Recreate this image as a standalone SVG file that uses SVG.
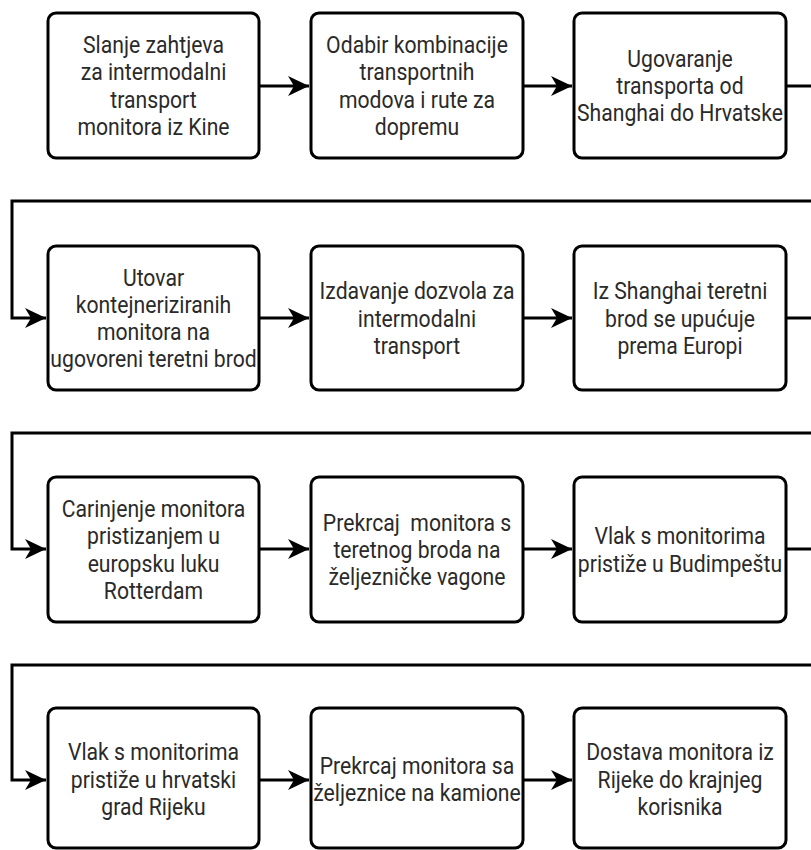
<svg xmlns="http://www.w3.org/2000/svg" width="811" height="850" viewBox="0 0 811 850">
<style>
.box{fill:#fff;stroke:#000;stroke-width:3}
.lbl{font-family:Roboto,"Liberation Sans",sans-serif;font-size:21.2px;fill:#2a2a2a;text-anchor:middle}
.conn{fill:none;stroke:#000;stroke-width:3}
</style>
<defs>
<marker id="ah" markerUnits="userSpaceOnUse" markerWidth="24" markerHeight="24" viewBox="-22 -12 24 24" refX="0" refY="0" orient="auto">
<path d="M0,0 L-21,-10 L-15,0 L-21,10 Z" fill="#000"/>
</marker>
</defs>
<rect width="811" height="850" fill="#fff"/>
<g id="connectors">
<path class="conn" d="M259,86 H309" marker-end="url(#ah)"/>
<path class="conn" d="M523,86 H572" marker-end="url(#ah)"/>
<path class="conn" d="M786,86 H811"/>
<path class="conn" d="M811,201 H12 V318 H46" marker-end="url(#ah)"/>
<path class="conn" d="M259,318 H309" marker-end="url(#ah)"/>
<path class="conn" d="M523,318 H572" marker-end="url(#ah)"/>
<path class="conn" d="M786,318 H811"/>
<path class="conn" d="M811,433 H12 V549 H46" marker-end="url(#ah)"/>
<path class="conn" d="M259,549 H309" marker-end="url(#ah)"/>
<path class="conn" d="M523,549 H572" marker-end="url(#ah)"/>
<path class="conn" d="M786,549 H811"/>
<path class="conn" d="M811,665 H12 V780 H46" marker-end="url(#ah)"/>
<path class="conn" d="M259,780 H309" marker-end="url(#ah)"/>
<path class="conn" d="M523,780 H572" marker-end="url(#ah)"/>
</g>
<g id="n1"><rect class="box" x="48" y="13" width="211" height="145" rx="8"/>
<text class="lbl" transform="translate(153.5,85.5) scale(1,1.12)"><tspan x="0" y="-29">Slanje zahtjeva</tspan><tspan x="0" y="-4.6">za intermodalni</tspan><tspan x="0" y="19.8">transport</tspan><tspan x="0" y="44.2">monitora iz Kine</tspan></text></g>
<g id="n2"><rect class="box" x="311" y="13" width="212" height="145" rx="8"/>
<text class="lbl" transform="translate(417,85.5) scale(1,1.12)"><tspan x="0" y="-29">Odabir kombinacije</tspan><tspan x="0" y="-4.6">transportnih</tspan><tspan x="0" y="19.8">modova i rute za</tspan><tspan x="0" y="44.2">dopremu</tspan></text></g>
<g id="n3"><rect class="box" x="574" y="13" width="212" height="145" rx="8"/>
<text class="lbl" transform="translate(680,85.5) scale(1,1.12)"><tspan x="0" y="-16.8">Ugovaranje</tspan><tspan x="0" y="7.6">transporta od</tspan><tspan x="0" y="32">Shanghai do Hrvatske</tspan></text></g>
<g id="n4"><rect class="box" x="48" y="246" width="211" height="144" rx="8"/>
<text class="lbl" transform="translate(153.5,318) scale(1,1.12)"><tspan x="0" y="-29">Utovar</tspan><tspan x="0" y="-4.6">kontejneriziranih</tspan><tspan x="0" y="19.8">monitora na</tspan><tspan x="0" y="44.2">ugovoreni teretni brod</tspan></text></g>
<g id="n5"><rect class="box" x="311" y="246" width="212" height="144" rx="8"/>
<text class="lbl" transform="translate(417,318) scale(1,1.12)"><tspan x="0" y="-16.8">Izdavanje dozvola za</tspan><tspan x="0" y="7.6">intermodalni</tspan><tspan x="0" y="32">transport</tspan></text></g>
<g id="n6"><rect class="box" x="574" y="246" width="212" height="144" rx="8"/>
<text class="lbl" transform="translate(680,318) scale(1,1.12)"><tspan x="0" y="-16.8">Iz Shanghai teretni</tspan><tspan x="0" y="7.6">brod se upućuje</tspan><tspan x="0" y="32">prema Europi</tspan></text></g>
<g id="n7"><rect class="box" x="48" y="477" width="211" height="145" rx="8"/>
<text class="lbl" transform="translate(153.5,549.5) scale(1,1.12)"><tspan x="0" y="-29">Carinjenje monitora</tspan><tspan x="0" y="-4.6">pristizanjem u</tspan><tspan x="0" y="19.8">europsku luku</tspan><tspan x="0" y="44.2">Rotterdam</tspan></text></g>
<g id="n8"><rect class="box" x="311" y="477" width="212" height="145" rx="8"/>
<text class="lbl" xml:space="preserve" transform="translate(417,549.5) scale(1,1.12)"><tspan x="0" y="-16.8">Prekrcaj  monitora s</tspan><tspan x="0" y="7.6">teretnog broda na</tspan><tspan x="0" y="32">željezničke vagone</tspan></text></g>
<g id="n9"><rect class="box" x="574" y="477" width="212" height="145" rx="8"/>
<text class="lbl" transform="translate(680,549.5) scale(1,1.12)"><tspan x="0" y="-4.6">Vlak s monitorima</tspan><tspan x="0" y="19.8">pristiže u Budimpeštu</tspan></text></g>
<g id="n10"><rect class="box" x="48" y="708" width="211" height="140" rx="8"/>
<text class="lbl" transform="translate(153.5,779) scale(1,1.12)"><tspan x="0" y="-16.8">Vlak s monitorima</tspan><tspan x="0" y="7.6">pristiže u hrvatski</tspan><tspan x="0" y="32">grad Rijeku</tspan></text></g>
<g id="n11"><rect class="box" x="311" y="708" width="212" height="140" rx="8"/>
<text class="lbl" transform="translate(417,779) scale(1,1.12)"><tspan x="0" y="-4.6">Prekrcaj monitora sa</tspan><tspan x="0" y="19.8">željeznice na kamione</tspan></text></g>
<g id="n12"><rect class="box" x="574" y="708" width="212" height="140" rx="8"/>
<text class="lbl" transform="translate(680,779) scale(1,1.12)"><tspan x="0" y="-16.8">Dostava monitora iz</tspan><tspan x="0" y="7.6">Rijeke do krajnjeg</tspan><tspan x="0" y="32">korisnika</tspan></text></g>
</svg>
